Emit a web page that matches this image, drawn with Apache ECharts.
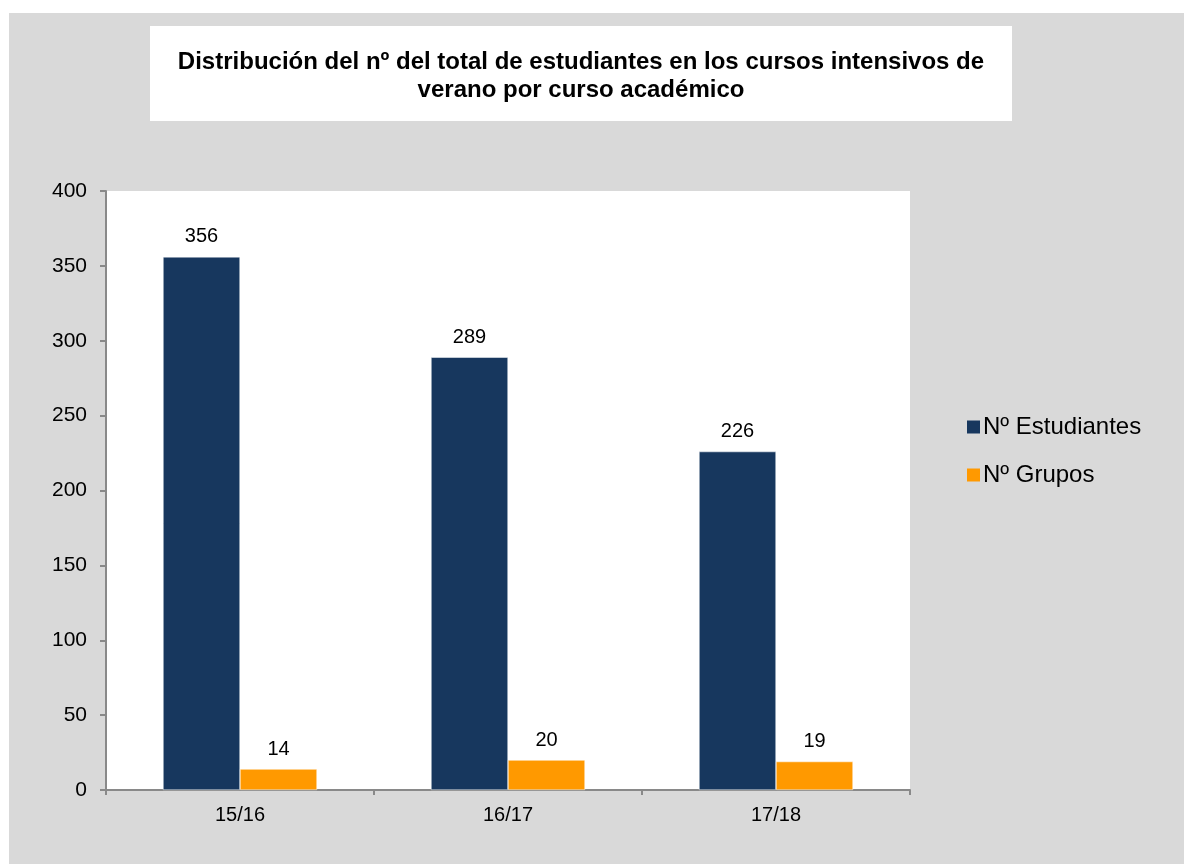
<!DOCTYPE html>
<html>
<head>
<meta charset="utf-8">
<script src="https://cdn.jsdelivr.net/npm/echarts@6/dist/echarts.min.js"></script>
<style>
  html, body { margin: 0; padding: 0; background: #fff; }
  #chart { width: 1184px; height: 864px; }
</style>
</head>
<body>
<div id="chart"></div>
<script>
const cursos = ['15/16', '16/17', '17/18']
const estudiantes = [356, 289, 226]
const grupos = [14, 20, 19]
const seriesNames = ['Nº Estudiantes', 'Nº Grupos']
const yTicks = { min: 0, max: 400, step: 50 }

const chart = echarts.init(document.getElementById('chart'))
const font = 'Arial, "Liberation Sans", sans-serif'

const labelStyle = {
    show: true,
    position: 'top',
    distance: 10,
    color: '#000',
    fontSize: 20,
    fontFamily: font
}

chart.setOption({
    animation: false,
    backgroundColor: '#fff',
    graphic: [
        { type: 'rect', z: -10, shape: { x: 9, y: 13, width: 1175, height: 851 }, style: { fill: '#d9d9d9' } },
        { type: 'rect', z: -9, shape: { x: 150, y: 26, width: 862, height: 95 }, style: { fill: '#fff' } }
    ],
    title: {
        text: 'Distribución del nº del total de estudiantes en los cursos intensivos de\nverano por curso académico',
        left: 576,
        top: 43,
        textAlign: 'center',
        textStyle: {
            fontFamily: font,
            fontSize: 24,
            fontWeight: 'bold',
            color: '#000',
            lineHeight: 28
        }
    },
    legend: {
        orient: 'vertical',
        left: 962,
        top: 410,
        icon: 'rect',
        itemWidth: 13,
        itemHeight: 13,
        itemGap: 24,
        data: seriesNames,
        itemStyle: { borderWidth: 0 },
        textStyle: { fontFamily: font, fontSize: 24, color: '#000', padding: [0, 0, 0, -2] }
    },
    grid: {
        left: 106,
        top: 191,
        right: 274,
        bottom: 74,
        show: true,
        backgroundColor: '#fff',
        borderWidth: 0
    },
    xAxis: {
        type: 'category',
        data: cursos,
        axisLine: { lineStyle: { color: '#898989', width: 2 } },
        axisTick: { show: true, length: 5, lineStyle: { color: '#898989', width: 2 } },
        axisLabel: { color: '#000', fontSize: 20, fontFamily: font, margin: 15 }
    },
    yAxis: {
        type: 'value',
        min: yTicks.min,
        max: yTicks.max,
        interval: yTicks.step,
        axisLine: { show: true, lineStyle: { color: '#898989', width: 2 } },
        axisTick: { show: true, length: 6, lineStyle: { color: '#898989', width: 2 } },
        splitLine: { show: false },
        axisLabel: { color: '#000', fontSize: 21, fontFamily: font, margin: 19 }
    },
    series: [
        {
            name: seriesNames[0],
            type: 'bar',
            data: estudiantes,
            barWidth: 77,
            barGap: '0%',
            itemStyle: { color: '#17375e', borderColor: '#fff', borderWidth: 0.5 },
            label: labelStyle
        },
        {
            name: seriesNames[1],
            type: 'bar',
            data: grupos,
            barWidth: 77,
            itemStyle: { color: '#ff9900', borderColor: '#fff', borderWidth: 0.5 },
            label: labelStyle
        }
    ]
})
</script>
</body>
</html>
